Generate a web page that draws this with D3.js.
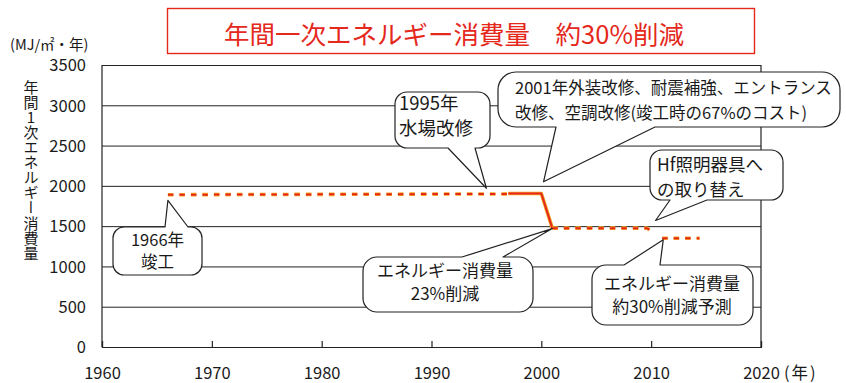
<!DOCTYPE html>
<html>
<head>
<meta charset="utf-8">
<script src="https://cdn.jsdelivr.net/npm/d3@7"></script>
<style>
  body { margin: 0; background: #fff; }
  text { font-family: "Noto Sans CJK JP", "Noto Sans", sans-serif; fill: #1a1a1a; }
</style>
</head>
<body>
<svg id="chart" width="846" height="383"></svg>
<script>
// ---- data ----
const xTicks = [1960, 1970, 1980, 1990, 2000, 2010, 2020];
const yTicks = [0, 500, 1000, 1500, 2000, 2500, 3000, 3500];
const titleText = "年間一次エネルギー消費量　約30%削減";
const unitText = "(MJ/㎡・年)";
const yTitleText = "年間1次エネルギー消費量";
const xUnitText = "(年)";

// annual primary energy use (MJ/m2 per year)
const originalYears = [1966, 1997];
const originalValues = [1890, 1900];
const retrofitYears = [1997, 2000, 2001];
const retrofitValues = [1905, 1905, 1475];
const afterYears = [2001, 2009.6, 2010.1];
const afterValues = [1475, 1475, 1440];
const forecastYears = [2011, 2014.4];
const forecastValues = [1350, 1350];

// callout notes and the points they refer to
const noteLines = [
  ["1966年", "竣工"],
  ["1995年", "水場改修"],
  ["2001年外装改修、耐震補強、エントランス", "改修、空調改修(竣工時の67%のコスト)"],
  ["Hf照明器具へ", "の取り替え"],
  ["エネルギー消費量", "23%削減"],
  ["エネルギー消費量", "約30%削減予測"]
];
const noteYears = [1966, 1995, 2000.2, 2010.4, 2001, 2011.1];
const noteValues = [1820, 1970, 2050, 1570, 1470, 1330];

// ---- layout ----
const svg = d3.select("#chart");
const plotL = 102, plotR = 761, plotT = 65, plotB = 347;
const x = d3.scaleLinear().domain([1960, 2020]).range([plotL, plotR]);
const y = d3.scaleLinear().domain([0, 3500]).range([plotB, plotT]);

const red = "#e5281c";

// title box
svg.append("rect").attr("x", 167.5).attr("y", 8.5).attr("width", 587).attr("height", 45)
  .attr("fill", "#fff").attr("stroke", red).attr("stroke-width", 1.4);
svg.append("text").attr("x", 454).attr("y", 32).attr("text-anchor", "middle")
  .attr("dominant-baseline", "central").style("fill", red).style("font-size", "25.5px")
  .text(titleText);

// unit label
svg.append("text").attr("x", 10).attr("y", 43).attr("dominant-baseline", "central")
  .style("font-size", "14.5px").text(unitText);

// vertical axis title, set in vertical writing
svg.append("text").attr("x", 31).attr("y", 79.5)
  .style("writing-mode", "vertical-rl").style("text-orientation", "upright")
  .style("font-size", "15px").style("letter-spacing", "0.1px")
  .text(yTitleText);

// y axis with gridlines
const yAxis = svg.append("g").attr("transform", `translate(${plotL},0)`)
  .call(d3.axisLeft(y).tickValues(yTicks).tickSize(-(plotR - plotL)).tickPadding(16)
    .tickFormat(d3.format("d")));
yAxis.select(".domain").remove();
yAxis.selectAll(".tick line").attr("stroke", "#222").attr("stroke-width", 1);
yAxis.selectAll(".tick text").attr("dy", "0.35em").style("font-size", "16.5px")
  .style("fill", "#1a1a1a").style("font-family", "\"Noto Sans CJK JP\", sans-serif");

// plot frame sides
svg.append("line").attr("x1", plotL).attr("x2", plotL).attr("y1", plotT).attr("y2", plotB)
  .attr("stroke", "#222").attr("stroke-width", 1.2);
svg.append("line").attr("x1", plotR).attr("x2", plotR).attr("y1", plotT).attr("y2", plotB)
  .attr("stroke", "#222").attr("stroke-width", 1.2);

// x axis with inward ticks
const xAxis = svg.append("g").attr("transform", `translate(0,${plotB})`)
  .call(d3.axisBottom(x).tickValues(xTicks).tickSize(-6).tickFormat(d3.format("d")));
xAxis.select(".domain").attr("stroke", "#222").attr("stroke-width", 1.2);
xAxis.selectAll(".tick line").attr("stroke", "#222").attr("stroke-width", 1.2);
xAxis.selectAll(".tick text").attr("y", 26).attr("dy", "0.35em").style("font-size", "16.5px")
  .style("fill", "#1a1a1a").style("font-family", "\"Noto Sans CJK JP\", sans-serif");
svg.append("text").attr("x", 784).attr("y", plotB + 26).attr("dy", "0.35em")
  .style("font-size", "16.5px").style("letter-spacing", "2px").text(xUnitText);

// energy use line
const line = d3.line().x(d => x(d[0])).y(d => y(d[1]));
const pair = (ys, vs) => ys.map((yr, i) => [yr, vs[i]]);
const segments = [
  { pts: pair(originalYears, originalValues), dash: "5.5,6" },
  { pts: pair(retrofitYears, retrofitValues), dash: null },
  { pts: pair(afterYears, afterValues), dash: "5.5,6" },
  { pts: pair(forecastYears, forecastValues), dash: "5.5,6" }
];
const lines = svg.append("g").attr("fill", "none").attr("stroke-linejoin", "round");
segments.forEach(s => {
  lines.append("path").attr("d", line(s.pts)).attr("stroke", "#f7a51e")
    .attr("stroke-width", 3.6).attr("stroke-dasharray", s.dash);
  lines.append("path").attr("d", line(s.pts)).attr("stroke", red)
    .attr("stroke-width", 2).attr("stroke-dasharray", s.dash);
});

// callout bubbles
const bubbles = [
  { box: [113, 227, 202, 275], r: 11, side: "top", base: [165, 188], anchor: "middle", tx: 157.5, ty: [240.5, 262.5], fs: 16.5 },
  { box: [395, 92, 490, 148], r: 12, side: "bottom", base: [448, 475], anchor: "start", tx: 399, ty: [104, 129], fs: 18.5 },
  { box: [498, 72, 840, 127], r: 18, side: "bottom", base: [556, 655], anchor: "start", tx: 515, ty: [88, 113], fs: 16.5 },
  { box: [650, 150, 783, 200], r: 12, side: "bottom", base: [670, 707], anchor: "start", tx: 657, ty: [165, 190], fs: 17.5 },
  { box: [363, 257, 533, 312], r: 14, side: "top", base: [462, 503], anchor: "middle", tx: 445, ty: [271, 294], fs: 17 },
  { box: [592, 265, 753, 325], r: 14, side: "top", base: [624, 660], anchor: "middle", tx: 672, ty: [284.5, 307.5], fs: 17 }
];

function bubblePath(b, tip) {
  const [x0, y0, x1, y1] = b.box, r = b.r, [a, c] = b.base;
  let p = `M${x0 + r},${y0}`;
  if (b.side === "top") p += `L${a},${y0}L${tip[0]},${tip[1]}L${c},${y0}`;
  p += `L${x1 - r},${y0}A${r},${r} 0 0 1 ${x1},${y0 + r}`;
  p += `L${x1},${y1 - r}A${r},${r} 0 0 1 ${x1 - r},${y1}`;
  if (b.side === "bottom") p += `L${c},${y1}L${tip[0]},${tip[1]}L${a},${y1}`;
  p += `L${x0 + r},${y1}A${r},${r} 0 0 1 ${x0},${y1 - r}`;
  p += `L${x0},${y0 + r}A${r},${r} 0 0 1 ${x0 + r},${y0}Z`;
  return p;
}

const notes = svg.append("g");
bubbles.forEach((b, i) => {
  const tip = [x(noteYears[i]), y(noteValues[i])];
  const g = notes.append("g");
  g.append("path").attr("d", bubblePath(b, tip)).attr("fill", "#fff")
    .attr("stroke", "#222").attr("stroke-width", 1.2).attr("stroke-linejoin", "round");
  // both lines of a note in one text block
  g.append("text").attr("text-anchor", b.anchor).style("font-size", b.fs + "px")
    .selectAll("tspan").data(noteLines[i]).join("tspan")
    .attr("x", b.tx).attr("y", (d, k) => b.ty[k]).attr("dy", "0.35em")
    .text(d => d);
});
</script>
</body>
</html>
